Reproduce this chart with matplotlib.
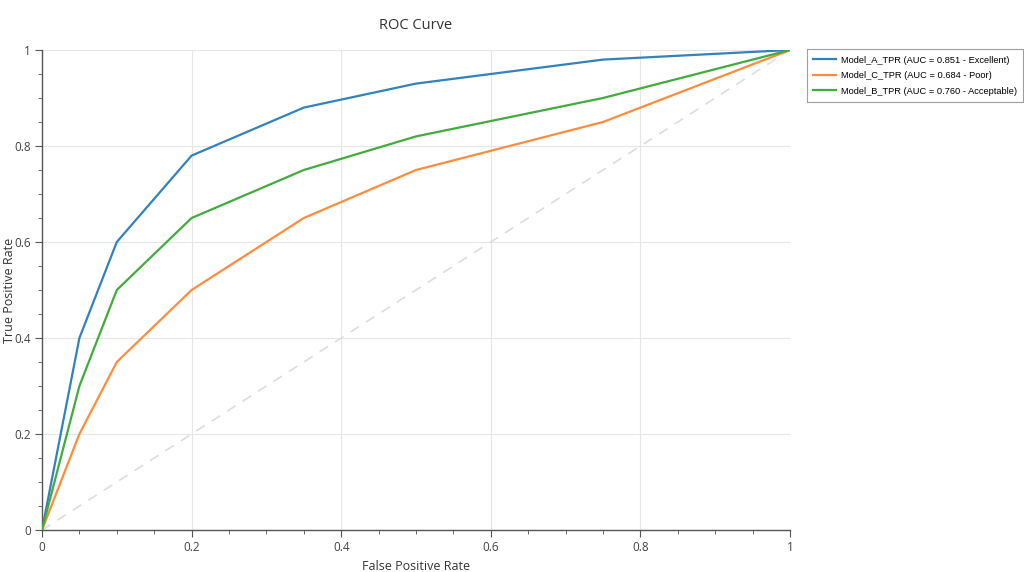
"""ROC curve for three models
"""
import matplotlib
matplotlib.use('Agg')
import matplotlib.pyplot as plt
from matplotlib.ticker import MultipleLocator, FormatStrFormatter

fpr = [0, 0.05, 0.1, 0.2, 0.35, 0.5, 0.75, 1.0]
tprA = [0, 0.40, 0.60, 0.78, 0.88, 0.93, 0.98, 1.0]
tprC = [0, 0.20, 0.35, 0.50, 0.65, 0.75, 0.85, 1.0]
tprB = [0, 0.30, 0.50, 0.65, 0.75, 0.82, 0.90, 1.0]
labels = ['Model_A_TPR (AUC = 0.851 - Excellent)',
          'Model_C_TPR (AUC = 0.684 - Poor)',
          'Model_B_TPR (AUC = 0.760 - Acceptable)']
colors = ['#3182bd', '#fd8d3c', '#41ab3d']

plt.rcParams['font.family'] = ['Open Sans', 'DejaVu Sans']
axisColor = '#555555'

fig = plt.figure(figsize=(10.24, 5.72), dpi=100)
ax = fig.add_axes([42/1024, 42/572, 748/1024, 480/572])

# chance line
ax.plot([0, 1], [0, 1], color='#dddddd', lw=1.2, dashes=(6, 5), zorder=1)
for y, lab, c in zip([tprA, tprC, tprB], labels, colors):
  ax.plot(fpr, y, color=c, lw=1.6, label=lab, zorder=3)

ax.set_xlim(0, 1)
ax.set_ylim(0, 1)
ax.xaxis.set_major_locator(MultipleLocator(0.2))
ax.yaxis.set_major_locator(MultipleLocator(0.2))
ax.xaxis.set_minor_locator(MultipleLocator(0.05))
ax.yaxis.set_minor_locator(MultipleLocator(0.05))
fmt = FormatStrFormatter('%g')
ax.xaxis.set_major_formatter(fmt)
ax.yaxis.set_major_formatter(fmt)
ax.grid(True, which='major', color='#e6e6e6', lw=0.8, zorder=0)
ax.set_axisbelow(True)
for s in ['top', 'right']:
  ax.spines[s].set_visible(False)
for s in ['left', 'bottom']:
  ax.spines[s].set_color(axisColor)
  ax.spines[s].set_linewidth(1.0)
ax.tick_params(which='major', length=5, color=axisColor, labelsize=8.5, labelcolor='#444444', pad=3)
ax.tick_params(which='minor', length=3, color=axisColor)

ax.set_xlabel('False Positive Rate', fontsize=9, color='#333333', labelpad=4)
ax.set_ylabel('True Positive Rate', fontsize=9, color='#333333')
ax.yaxis.set_label_coords(-26/748, 0.5)
ax.set_title('ROC Curve', fontsize=10.5, color='#333333', pad=15)

leg = ax.legend(loc='upper left', bbox_to_anchor=(1.02, 1.005), frameon=True, fancybox=False,
                edgecolor='#888888', handlelength=2.5, handletextpad=0.5, borderpad=0.65,
                labelspacing=0.7, borderaxespad=0.2,
                prop={'family': ['Liberation Sans', 'DejaVu Sans'], 'size': 6.7})
leg.get_frame().set_linewidth(0.8)

fig.savefig('out.png', dpi=100)
